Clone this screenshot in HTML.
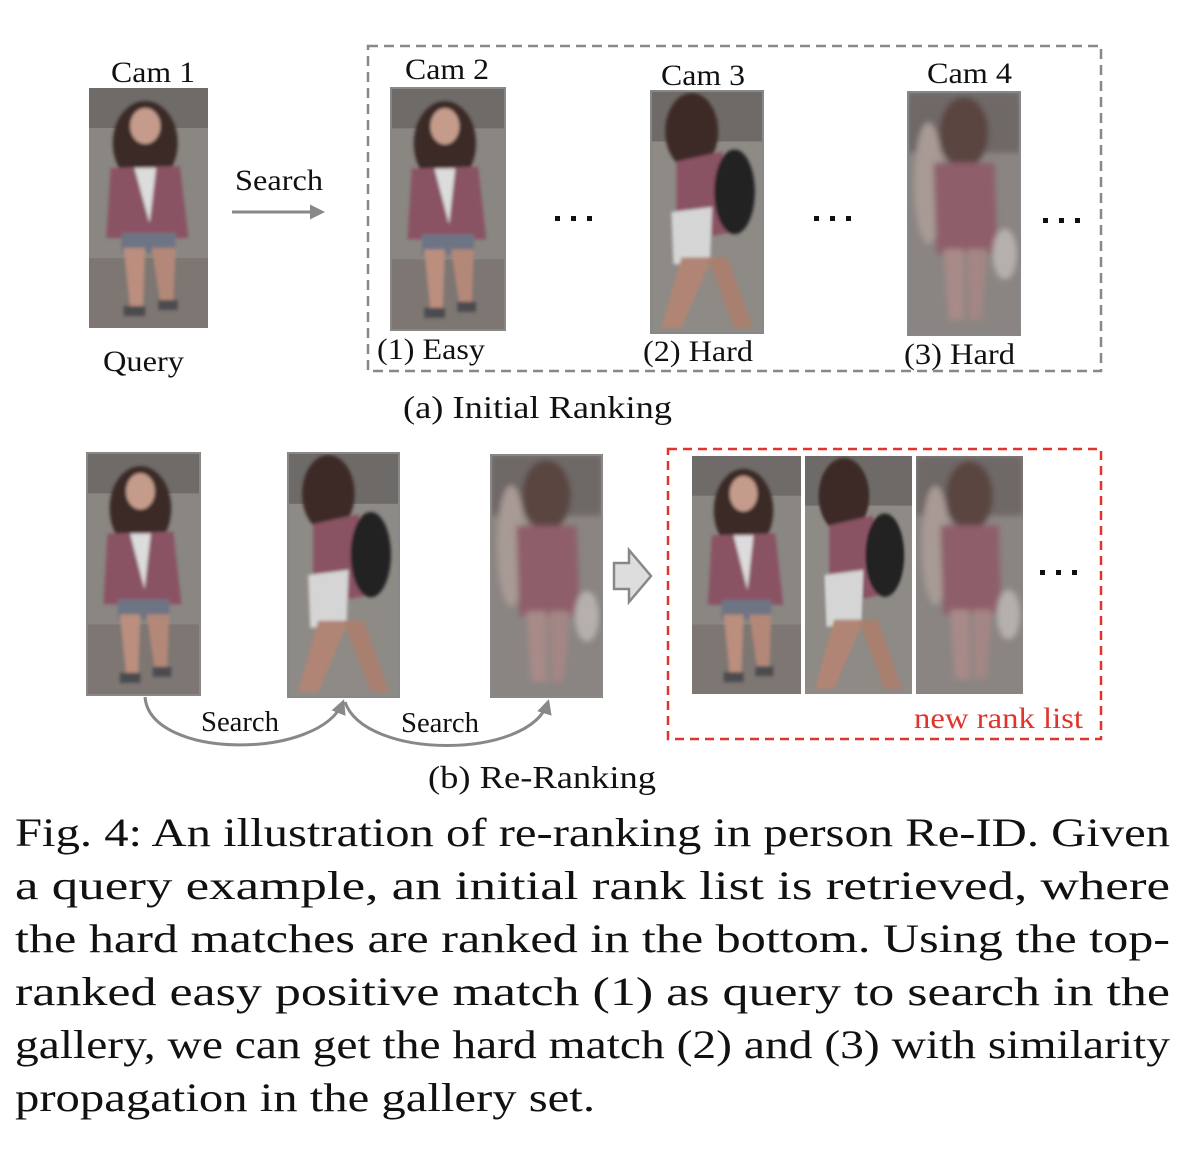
<!DOCTYPE html>
<html><head><meta charset="utf-8"><style>
html,body{margin:0;padding:0;background:#fff;}
#wrap{position:relative;width:1186px;height:1150px;overflow:hidden;}
</style></head><body><div id="wrap">
<svg width="1186" height="1150" viewBox="0 0 1186 1150" style="position:absolute;left:0;top:0" font-family="Liberation Serif, serif" fill="#111">
<defs>
<filter id="bl"><feGaussianBlur stdDeviation="3"/></filter>
<filter id="bl2"><feGaussianBlur stdDeviation="1.5"/></filter>
<symbol id="A" viewBox="0 0 110 240" preserveAspectRatio="none">
<rect width="110" height="240" fill="#8a8682"/>
<rect width="110" height="40" fill="#6f6b68"/>
<rect y="170" width="110" height="70" fill="#7d7672"/>
<g filter="url(#bl2)">
<ellipse cx="52" cy="55" rx="30" ry="42" fill="#3a2a25"/>
<ellipse cx="52" cy="38" rx="14" ry="18" fill="#c59c8c"/>
<path d="M20 80 L84 78 L92 150 L16 150 Z" fill="#8a5364"/>
<path d="M42 80 L62 80 L56 135 Z" fill="#dcdcdc"/>
<rect x="30" y="145" width="50" height="20" fill="#6d7584"/>
<path d="M32 160 L52 160 L50 220 L38 220 Z" fill="#bb8e7e"/>
<path d="M58 160 L80 160 L78 215 L66 215 Z" fill="#b48878"/>
<rect x="32" y="218" width="20" height="10" fill="#4c4c50"/>
<rect x="64" y="212" width="18" height="10" fill="#4c4c50"/>
</g>
</symbol>
<symbol id="B" viewBox="0 0 110 240" preserveAspectRatio="none">
<rect width="110" height="240" fill="#8e8a86"/>
<rect width="110" height="50" fill="#6e6a68"/>
<g filter="url(#bl2)">
<ellipse cx="40" cy="40" rx="26" ry="38" fill="#3e2c28"/>
<path d="M25 70 L70 60 L80 140 L25 150 Z" fill="#8a5364"/>
<ellipse cx="82" cy="100" rx="20" ry="42" fill="#222"/>
<path d="M20 120 L60 115 L58 170 L22 172 Z" fill="#d5d5d5"/>
<path d="M30 165 L60 165 L30 235 L10 235 Z" fill="#b08575"/>
<path d="M55 165 L75 165 L100 235 L82 235 Z" fill="#a98070"/>
</g>
</symbol>
<symbol id="C" viewBox="0 0 110 240" preserveAspectRatio="none">
<rect width="110" height="240" fill="#8a8582"/>
<g filter="url(#bl)">
<rect width="110" height="60" fill="#6e6866"/>
<ellipse cx="20" cy="90" rx="14" ry="60" fill="#a89a94"/>
<ellipse cx="55" cy="40" rx="24" ry="35" fill="#5a4440"/>
<path d="M25 70 L85 70 L88 160 L28 160 Z" fill="#8e5e6a"/>
<path d="M35 155 L55 155 L55 225 L40 225 Z" fill="#a88a88"/>
<path d="M58 155 L78 155 L72 225 L60 225 Z" fill="#a48684"/>
<ellipse cx="95" cy="160" rx="12" ry="25" fill="#b5b0ad"/>
</g>
</symbol>
<marker id="ah" viewBox="0 0 10 10" refX="8" refY="5" markerWidth="5" markerHeight="5" orient="auto"><path d="M0 0 L10 5 L0 10 Z" fill="#888"/></marker>
</defs>
<!-- top row -->
<text x="111" y="82" font-size="30" textLength="84" lengthAdjust="spacingAndGlyphs">Cam 1</text>
<use href="#A" x="89" y="88" width="119" height="240"/>
<text x="103" y="371" font-size="30" textLength="81" lengthAdjust="spacingAndGlyphs">Query</text>
<text x="235" y="190" font-size="30" textLength="88" lengthAdjust="spacingAndGlyphs">Search</text>
<line x1="232" y1="212" x2="322" y2="212" stroke="#888" stroke-width="3" marker-end="url(#ah)"/>
<rect x="368" y="46" width="733" height="325" fill="none" stroke="#888" stroke-width="2.5" stroke-dasharray="10 6"/>
<text x="405" y="79" font-size="30" textLength="84" lengthAdjust="spacingAndGlyphs">Cam 2</text>
<use href="#A" x="391" y="88" width="114" height="242"/>
<rect x="391" y="88" width="114" height="242" fill="none" stroke="#888" stroke-width="2"/>
<text x="377" y="359" font-size="30" textLength="108" lengthAdjust="spacingAndGlyphs">(1) Easy</text>
<text x="661" y="85" font-size="30" textLength="84" lengthAdjust="spacingAndGlyphs">Cam 3</text>
<use href="#B" x="651" y="91" width="112" height="242"/>
<rect x="651" y="91" width="112" height="242" fill="none" stroke="#888" stroke-width="2"/>
<text x="643" y="361" font-size="30" textLength="110" lengthAdjust="spacingAndGlyphs">(2) Hard</text>
<text x="927" y="83" font-size="30" textLength="85" lengthAdjust="spacingAndGlyphs">Cam 4</text>
<use href="#C" x="908" y="92" width="112" height="243"/>
<rect x="908" y="92" width="112" height="243" fill="none" stroke="#888" stroke-width="2"/>
<text x="904" y="364" font-size="30" textLength="111" lengthAdjust="spacingAndGlyphs">(3) Hard</text>
<g fill="#111"><rect x="555" y="216" width="5" height="5"/><rect x="571" y="216" width="5" height="5"/><rect x="587" y="216" width="5" height="5"/>
<rect x="814" y="216" width="5" height="5"/><rect x="830" y="216" width="5" height="5"/><rect x="846" y="216" width="5" height="5"/>
<rect x="1043" y="218" width="5" height="5"/><rect x="1059" y="218" width="5" height="5"/><rect x="1075" y="218" width="5" height="5"/>
<rect x="1040" y="570" width="5" height="5"/><rect x="1056" y="570" width="5" height="5"/><rect x="1072" y="570" width="5" height="5"/></g>
<text x="403" y="418" font-size="32" textLength="269" lengthAdjust="spacingAndGlyphs">(a) Initial Ranking</text>
<!-- bottom row -->
<use href="#A" x="87" y="453" width="113" height="242"/>
<rect x="87" y="453" width="113" height="242" fill="none" stroke="#888" stroke-width="2"/>
<use href="#B" x="288" y="453" width="111" height="244"/>
<rect x="288" y="453" width="111" height="244" fill="none" stroke="#888" stroke-width="2"/>
<use href="#C" x="491" y="455" width="111" height="242"/>
<rect x="491" y="455" width="111" height="242" fill="none" stroke="#888" stroke-width="2"/>
<path d="M145 697 C150 760 320 760 343 702" fill="none" stroke="#888" stroke-width="3" marker-end="url(#ah)"/>
<path d="M345 702 C365 760 530 760 548 702" fill="none" stroke="#888" stroke-width="3" marker-end="url(#ah)"/>
<text x="201" y="731" font-size="28" textLength="78" lengthAdjust="spacingAndGlyphs">Search</text>
<text x="401" y="732" font-size="28" textLength="78" lengthAdjust="spacingAndGlyphs">Search</text>
<path d="M614 563 L629 563 L629 550 L651 576 L629 602 L629 589 L614 589 Z" fill="#ddd" stroke="#888" stroke-width="2.5"/>
<rect x="668" y="449" width="433" height="290" fill="none" stroke="#e0342c" stroke-width="2.5" stroke-dasharray="9 6"/>
<use href="#A" x="692" y="456" width="109" height="238"/>
<use href="#B" x="805" y="456" width="107" height="238"/>
<use href="#C" x="916" y="456" width="107" height="238"/>
<text x="914" y="728" font-size="30" fill="#e0342c" textLength="169" lengthAdjust="spacingAndGlyphs">new rank list</text>
<text x="428" y="788" font-size="32" textLength="228" lengthAdjust="spacingAndGlyphs">(b) Re-Ranking</text>
<!-- caption -->
<g font-size="40">
<text x="15" y="846" textLength="1155" lengthAdjust="spacingAndGlyphs">Fig. 4: An illustration of re-ranking in person Re-ID. Given</text>
<text x="15" y="899" textLength="1155" lengthAdjust="spacingAndGlyphs">a query example, an initial rank list is retrieved, where</text>
<text x="15" y="952" textLength="1155" lengthAdjust="spacingAndGlyphs">the hard matches are ranked in the bottom. Using the top-</text>
<text x="15" y="1005" textLength="1155" lengthAdjust="spacingAndGlyphs">ranked easy positive match (1) as query to search in the</text>
<text x="15" y="1058" textLength="1155" lengthAdjust="spacingAndGlyphs">gallery, we can get the hard match (2) and (3) with similarity</text>
<text x="15" y="1111" textLength="580" lengthAdjust="spacingAndGlyphs">propagation in the gallery set.</text>
</g>
</svg>
</div></body></html>
